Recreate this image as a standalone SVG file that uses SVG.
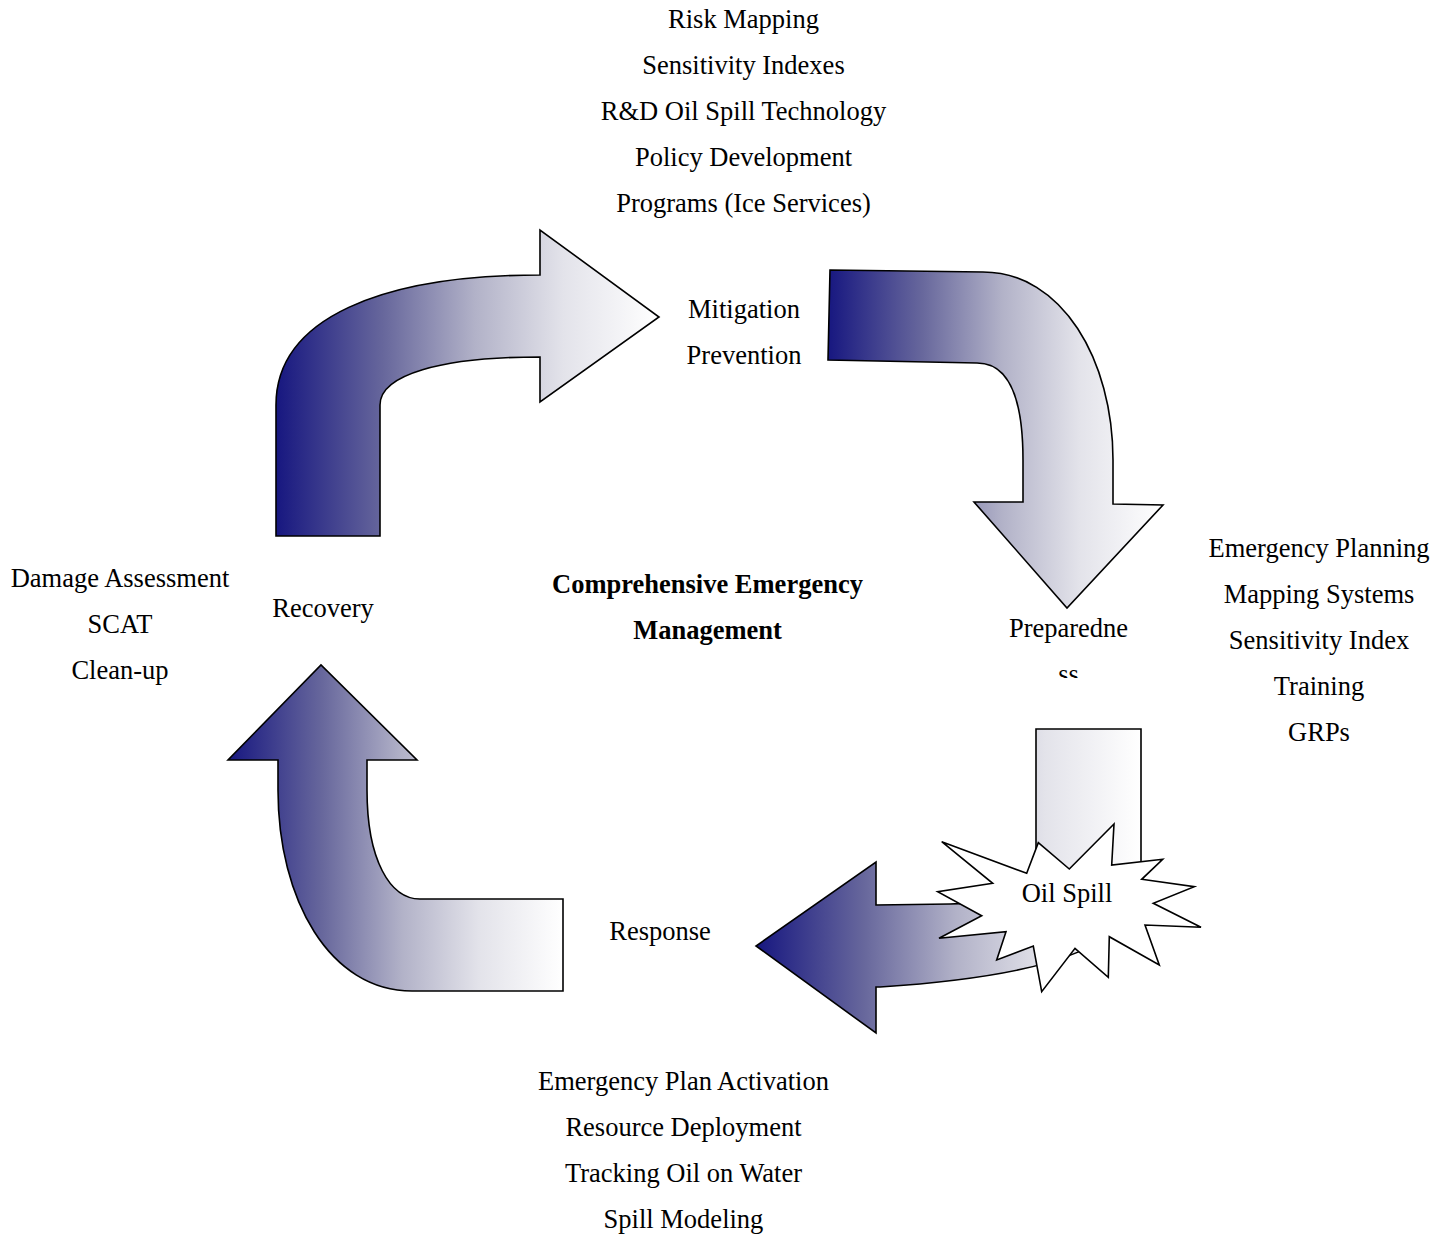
<svg xmlns="http://www.w3.org/2000/svg" width="1448" height="1237" viewBox="0 0 1448 1237">
  <style>
    .t { font-family: "Liberation Serif", "Times New Roman", serif; font-size: 26.5px; fill: #000; text-anchor: middle; }
    .b { font-weight: bold; }
    .arrow { fill: url(#navyFade); stroke: #000; stroke-width: 1.6; stroke-linejoin: miter; }
    .burst { fill: #fff; stroke: #000; stroke-width: 1.6; stroke-linejoin: miter; }
  </style>
  <defs>
    <linearGradient id="navyFade" x1="0" y1="0" x2="1" y2="0">
      <stop offset="0" stop-color="#171780"/>
      <stop offset="0.28" stop-color="#67679c"/>
      <stop offset="0.52" stop-color="#b2b2c8"/>
      <stop offset="0.75" stop-color="#e3e3ea"/>
      <stop offset="1" stop-color="#ffffff"/>
    </linearGradient>
    <clipPath id="prepBox">
      <rect x="980" y="600" width="180" height="78"/>
    </clipPath>
  </defs>

  <rect width="1448" height="1237" fill="#fff"/>

  <!-- cycle arrows -->
  <g id="connectors">
    <!-- recovery to mitigation -->
    <path id="arrow-recovery-mitigation" class="arrow"
      d="M276,536 L276,405 C276,318 382,275 540,275 L540,230 L659,317 L540,402 L540,357 C440,357 380,375 380,405 L380,536 Z"/>
    <!-- mitigation to preparedness -->
    <path id="arrow-mitigation-preparedness" class="arrow"
      d="M830,270 L983,272 C1062,272 1113,360 1113,460 L1113,504 L1163,505 L1067,608 L974,502 L1023,502 L1023,460 C1023,400 1010,363 977,363 L828,360 Z"/>
    <!-- preparedness to response, through the spill -->
    <path id="arrow-preparedness-response" class="arrow"
      d="M1036,729 L1141,729 L1141,870 C1141,945 1060,975 880,987 L876,987 L876,1033 L756,946 L876,862 L876,905 L950,904 C1005,903 1036,885 1036,850 Z"/>
    <!-- response to recovery -->
    <path id="arrow-response-recovery" class="arrow"
      d="M563,899 L563,991 L412,991 C330,991 278,900 278,790 L278,760 L228,760 L321,665 L417,760 L367,760 L367,790 C367,860 390,899 420,899 Z"/>
  </g>

  <!-- oil spill burst -->
  <g id="oil-spill">
    <polygon class="burst" points="941.7,841.7 1026.7,873.3 1038.3,842.7 1069.3,869 1114,824 1111.7,865 1162.7,859.3 1141.7,879.3 1194.3,886.7 1153.3,903.3 1201,927.3 1145,925 1159.3,965 1109.3,936.7 1108.3,977.3 1075,948.3 1041.7,991.7 1033.3,946 996.7,960 1006,931.7 939,938.3 981.7,915.7 937.7,891.7 992.7,883.3"/>
    <text class="t" x="1067" y="902">Oil Spill</text>
  </g>

  <!-- mitigation stage -->
  <g id="mitigation">
    <text class="t" x="744" y="318">Mitigation</text>
    <text class="t" x="744" y="364">Prevention</text>
  </g>
  <g id="mitigation-tasks">
    <text class="t" x="743.5" y="28">Risk Mapping</text>
    <text class="t" x="743.5" y="74">Sensitivity Indexes</text>
    <text class="t" x="743.5" y="120">R&amp;D Oil Spill Technology</text>
    <text class="t" x="743.5" y="166">Policy Development</text>
    <text class="t" x="743.5" y="212">Programs (Ice Services)</text>
  </g>

  <!-- preparedness stage (label wraps inside a narrow box) -->
  <g id="preparedness" clip-path="url(#prepBox)">
    <text class="t" x="1068.5" y="637">Preparedne</text>
    <text class="t" x="1068.5" y="683">ss</text>
  </g>
  <g id="preparedness-tasks">
    <text class="t" x="1319" y="557">Emergency Planning</text>
    <text class="t" x="1319" y="603">Mapping Systems</text>
    <text class="t" x="1319" y="649">Sensitivity Index</text>
    <text class="t" x="1319" y="695">Training</text>
    <text class="t" x="1319" y="741">GRPs</text>
  </g>

  <!-- response stage -->
  <g id="response">
    <text class="t" x="660" y="940">Response</text>
  </g>
  <g id="response-tasks">
    <text class="t" x="683.5" y="1090">Emergency Plan Activation</text>
    <text class="t" x="683.5" y="1136">Resource Deployment</text>
    <text class="t" x="683.5" y="1182">Tracking Oil on Water</text>
    <text class="t" x="683.5" y="1228">Spill Modeling</text>
  </g>

  <!-- recovery stage -->
  <g id="recovery">
    <text class="t" x="323" y="617">Recovery</text>
  </g>
  <g id="recovery-tasks">
    <text class="t" x="120" y="587">Damage Assessment</text>
    <text class="t" x="120" y="633">SCAT</text>
    <text class="t" x="120" y="679">Clean-up</text>
  </g>

  <!-- title -->
  <g id="title">
    <text class="t b" x="707.5" y="593">Comprehensive Emergency</text>
    <text class="t b" x="707.5" y="639">Management</text>
  </g>
</svg>
